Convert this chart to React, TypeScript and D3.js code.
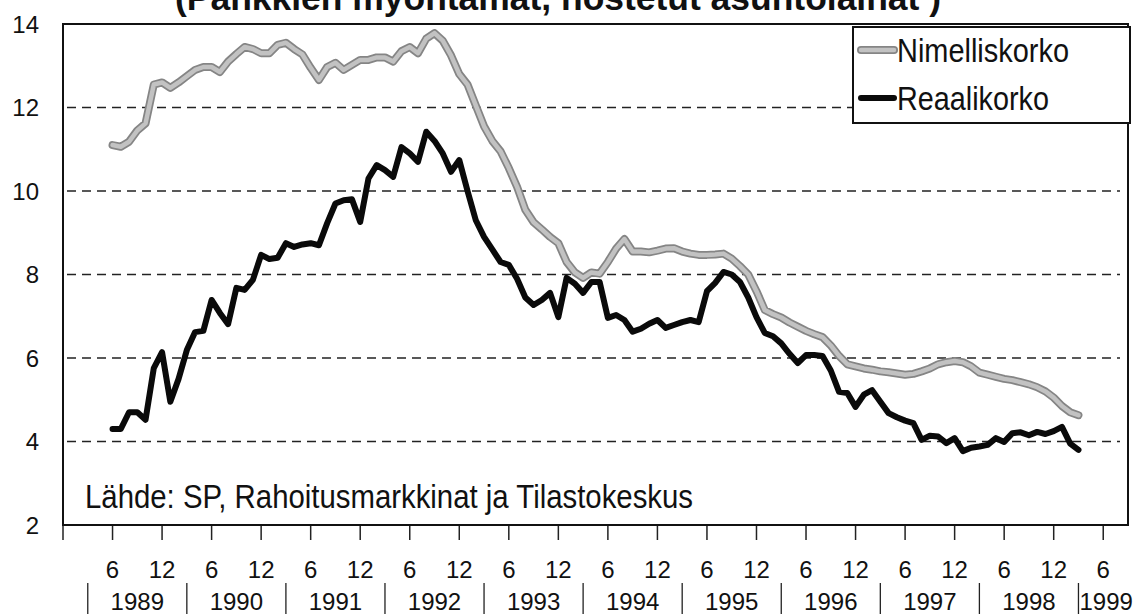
import { useEffect, useRef } from 'react';
import * as d3 from 'd3';

// Kuukausi-indeksi: 0 = joulukuu 1988, ensimmäinen havainto kesäkuu 1989
const FIRST_MONTH = 6;
const LAST_AXIS_MONTH = 129;

// Nimelliskorko, % (kuukausittain 6/1989 – 3/1999)
const nimelliskorko = [
  11.10, 11.06, 11.18, 11.45, 11.62, 12.55, 12.60, 12.47, 12.60, 12.75,
  12.90, 12.97, 12.97, 12.85, 13.10, 13.28, 13.45, 13.40, 13.30, 13.30,
  13.50, 13.55, 13.40, 13.27, 12.95, 12.66, 12.97, 13.07, 12.90, 13.02,
  13.14, 13.14, 13.20, 13.20, 13.10, 13.35, 13.45, 13.30, 13.65, 13.78,
  13.60, 13.25, 12.80, 12.55, 12.05, 11.55, 11.20, 10.95, 10.55, 10.10,
  9.55, 9.25, 9.08, 8.90, 8.75, 8.30, 8.05, 7.92, 8.05, 8.02,
  8.30, 8.62, 8.85, 8.55, 8.55, 8.53, 8.57, 8.62, 8.63, 8.55,
  8.50, 8.47, 8.47, 8.48, 8.50, 8.38, 8.20, 8.00, 7.60, 7.15,
  7.05, 6.97, 6.85, 6.75, 6.65, 6.57, 6.50, 6.30, 6.05, 5.85,
  5.80, 5.75, 5.72, 5.68, 5.66, 5.63, 5.60, 5.62, 5.68, 5.75,
  5.85, 5.90, 5.93, 5.90, 5.80, 5.65, 5.60, 5.55, 5.50, 5.47,
  5.42, 5.37, 5.30, 5.20, 5.05, 4.85, 4.70, 4.63,
];

// Reaalikorko, %
const reaalikorko = [
  4.30, 4.30, 4.70, 4.70, 4.52, 5.76, 6.14, 4.95, 5.50, 6.19,
  6.62, 6.65, 7.39, 7.08, 6.81, 7.68, 7.63, 7.87, 8.47, 8.37,
  8.40, 8.75, 8.66, 8.72, 8.75, 8.70, 9.23, 9.70, 9.78, 9.80,
  9.26, 10.30, 10.62, 10.50, 10.34, 11.05, 10.90, 10.70, 11.42, 11.20,
  10.90, 10.46, 10.74, 10.00, 9.30, 8.90, 8.60, 8.30, 8.23, 7.90,
  7.45, 7.27, 7.39, 7.56, 6.98, 7.92, 7.78, 7.56, 7.82, 7.82,
  6.96, 7.03, 6.91, 6.63, 6.70, 6.82, 6.91, 6.72, 6.79, 6.86,
  6.91, 6.86, 7.60, 7.80, 8.06, 8.00, 7.82, 7.45, 6.98, 6.60,
  6.52, 6.35, 6.10, 5.88, 6.07, 6.07, 6.05, 5.70, 5.19, 5.16,
  4.83, 5.12, 5.23, 4.95, 4.68, 4.58, 4.50, 4.44, 4.04, 4.14,
  4.12, 3.96, 4.08, 3.77, 3.85, 3.88, 3.92, 4.08, 3.99, 4.20,
  4.22, 4.15, 4.23, 4.18, 4.25, 4.35, 3.95, 3.80,
];

const yTicks = [2, 4, 6, 8, 10, 12, 14];
const gridValues = [4, 6, 8, 10, 12];
const halfYearTicks = [0, 6, 12, 18, 24, 30, 36, 42, 48, 54, 60, 66, 72, 78, 84, 90, 96, 102, 108, 114, 120, 126];
const halfYearLabels = ['', '6', '12', '6', '12', '6', '12', '6', '12', '6', '12', '6', '12', '6', '12', '6', '12', '6', '12', '6', '12', '6'];
const years = ['1989', '1990', '1991', '1992', '1993', '1994', '1995', '1996', '1997', '1998'];
const yearSeparators = [3, 15, 27, 39, 51, 63, 75, 87, 99, 111, 123];
const lastYear = '1999';

const title = '(Pankkien myöntämät, nostetut asuntolainat )';
const source = 'Lähde: SP, Rahoitusmarkkinat ja Tilastokeskus';
const legendItems = [
  { name: 'Nimelliskorko', kind: 'gray', width: 172 },
  { name: 'Reaalikorko', kind: 'black', width: 152 },
];

const W = 1134;
const H = 614;
const FONT = "'Liberation Sans', Arial, Helvetica, sans-serif";
const NARROW = "'Liberation Sans Narrow', 'Liberation Sans', Arial, sans-serif";

export default function App() {
  const svgRef = useRef<SVGSVGElement | null>(null);

  useEffect(() => {
    const svg = d3.select(svgRef.current);
    svg.selectAll('*').remove();

    const left = 63, right = 1128, top = 24, bottom = 525;

    const x = d3.scaleLinear().domain([0, LAST_AXIS_MONTH]).range([left, right]);
    const y = d3.scaleLinear().domain([2, 14]).range([bottom, top]);

    svg.append('rect').attr('width', W).attr('height', H).attr('fill', '#fff');

    // ── otsikko (yläreuna leikattu) ──
    svg.append('text')
      .attr('x', 175).attr('y', 10)
      .attr('font-family', FONT).attr('font-weight', 700).attr('font-size', 35)
      .attr('textLength', 766).attr('lengthAdjust', 'spacingAndGlyphs')
      .attr('fill', '#111')
      .text(title);

    // ── katkoviivat ──
    svg.append('g').selectAll('line').data(gridValues).join('line')
      .attr('x1', left + 4).attr('x2', right - 8)
      .attr('y1', d => y(d)).attr('y2', d => y(d))
      .attr('stroke', '#222').attr('stroke-width', 1.5)
      .attr('stroke-dasharray', '9,6');

    // ── y-akselin luvut ──
    svg.append('g').selectAll('text').data(yTicks).join('text')
      .attr('x', 39).attr('y', d => y(d) + 8.5)
      .attr('text-anchor', 'end')
      .attr('font-family', FONT).attr('font-size', 24).attr('fill', '#111')
      .text(d => d);

    // ── x-akselin väkäset ja kuukausiluvut ──
    svg.append('g').selectAll('line').data(halfYearTicks).join('line')
      .attr('x1', d => x(d)).attr('x2', d => x(d))
      .attr('y1', bottom).attr('y2', bottom + 15)
      .attr('stroke', '#222').attr('stroke-width', 1.5);

    svg.append('g').selectAll('text').data(halfYearTicks).join('text')
      .attr('x', d => x(d)).attr('y', 578)
      .attr('text-anchor', 'middle')
      .attr('font-family', FONT).attr('font-size', 24).attr('fill', '#111')
      .text((d, i) => halfYearLabels[i]);

    // ── vuodet ──
    svg.append('g').selectAll('line').data(yearSeparators).join('line')
      .attr('x1', d => x(d)).attr('x2', d => x(d))
      .attr('y1', 583).attr('y2', H)
      .attr('stroke', '#222').attr('stroke-width', 1.3);

    svg.append('g').selectAll('text').data(years).join('text')
      .attr('x', (d, i) => (x(yearSeparators[i]) + x(yearSeparators[i + 1])) / 2)
      .attr('y', 610)
      .attr('text-anchor', 'middle')
      .attr('font-family', FONT).attr('font-size', 24).attr('fill', '#111')
      .text(d => d);

    svg.append('text')
      .attr('x', x(yearSeparators[yearSeparators.length - 1]) + 1).attr('y', 610)
      .attr('font-family', FONT).attr('font-size', 24).attr('fill', '#111')
      .text(lastYear);

    // ── sarjat ──
    const line = d3.line<number>()
      .x((d, i) => x(FIRST_MONTH + i))
      .y(d => y(d))
      .curve(d3.curveLinear);

    const plot = svg.append('g');
    plot.append('path').attr('d', line(nimelliskorko))
      .attr('fill', 'none').attr('stroke', '#858585').attr('stroke-width', 8)
      .attr('stroke-linejoin', 'round').attr('stroke-linecap', 'round');
    plot.append('path').attr('d', line(nimelliskorko))
      .attr('fill', 'none').attr('stroke', '#c2c2c2').attr('stroke-width', 4.5)
      .attr('stroke-linejoin', 'round').attr('stroke-linecap', 'round');
    plot.append('path').attr('d', line(reaalikorko))
      .attr('fill', 'none').attr('stroke', '#0a0a0a').attr('stroke-width', 6)
      .attr('stroke-linejoin', 'round').attr('stroke-linecap', 'round');

    // ── kehys ──
    svg.append('rect')
      .attr('x', left).attr('y', top).attr('width', right - left).attr('height', bottom - top)
      .attr('fill', 'none').attr('stroke', '#111').attr('stroke-width', 2);

    // ── lähde ──
    svg.append('text')
      .attr('x', 85).attr('y', 508)
      .attr('font-family', NARROW).attr('font-size', 33)
      .attr('textLength', 608).attr('lengthAdjust', 'spacingAndGlyphs')
      .attr('fill', '#111')
      .text(source);

    // ── selite ──
    const lg = svg.append('g');
    lg.append('rect')
      .attr('x', 853).attr('y', 27).attr('width', 277).attr('height', 96)
      .attr('fill', '#fff').attr('stroke', '#111').attr('stroke-width', 2);

    legendItems.forEach((item, i) => {
      const ly = 50 + i * 48;
      if (item.kind === 'gray') {
        lg.append('line').attr('x1', 861).attr('x2', 894).attr('y1', ly).attr('y2', ly)
          .attr('stroke', '#858585').attr('stroke-width', 8).attr('stroke-linecap', 'round');
        lg.append('line').attr('x1', 861).attr('x2', 894).attr('y1', ly).attr('y2', ly)
          .attr('stroke', '#c2c2c2').attr('stroke-width', 4.5).attr('stroke-linecap', 'round');
      } else {
        lg.append('line').attr('x1', 861).attr('x2', 894).attr('y1', ly).attr('y2', ly)
          .attr('stroke', '#0a0a0a').attr('stroke-width', 6).attr('stroke-linecap', 'round');
      }
      lg.append('text')
        .attr('x', 897).attr('y', ly + 12)
        .attr('font-family', NARROW).attr('font-size', 33)
        .attr('textLength', item.width).attr('lengthAdjust', 'spacingAndGlyphs')
        .attr('fill', '#111')
        .text(item.name);
    });
  }, []);

  return (
    <svg
      ref={svgRef}
      width={W}
      height={H}
      style={{ position: 'absolute', left: 0, top: 0, display: 'block' }}
    />
  );
}
